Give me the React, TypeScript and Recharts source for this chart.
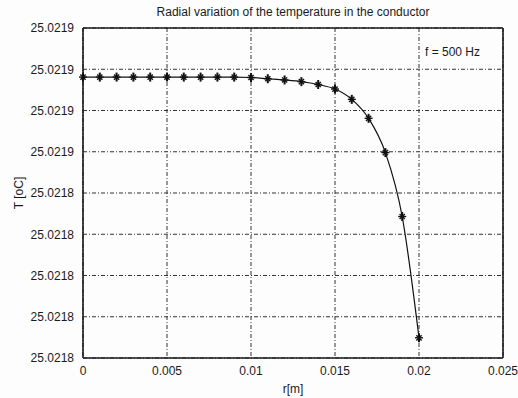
import React from 'react';
import { LineChart, Line, XAxis, YAxis, CartesianGrid, ReferenceLine } from 'recharts';

// radius [m]
const radius = [
  0, 0.001, 0.002, 0.003, 0.004, 0.005, 0.006, 0.007, 0.008, 0.009, 0.01,
  0.011, 0.012, 0.013, 0.014, 0.015, 0.016, 0.017, 0.018, 0.019, 0.02,
];

// temperature [oC]
const temperature = [
  25.0218731, 25.0218731, 25.0218731, 25.0218731, 25.0218731, 25.0218731,
  25.0218731, 25.0218731, 25.0218731, 25.0218731, 25.0218730,
  25.0218727, 25.0218724, 25.0218720, 25.0218713, 25.0218702,
  25.0218677, 25.0218631, 25.0218548, 25.0218393, 25.0218099,
];

const xTicks = [0, 0.005, 0.01, 0.015, 0.02, 0.025];
const yTicks = [
  25.021805, 25.021815, 25.021825, 25.021835, 25.021845,
  25.021855, 25.021865, 25.021875, 25.021885,
];

const chartData = radius.map((r, i) => ({ r, T: temperature[i] }));

const FONT = '"Liberation Sans", Arial, sans-serif';
const INK = '#1a1a1a';

// MATLAB style '*' marker
const StarDot = (props: any) => {
  const { cx, cy } = props;
  if (cx == null || cy == null) return null;
  const s = 4;
  const d = 2.6;
  return (
    <g stroke="#111" strokeWidth={1.4}>
      <line x1={cx - s} y1={cy} x2={cx + s} y2={cy} />
      <line x1={cx} y1={cy - s - 0.5} x2={cx} y2={cy + s + 0.5} strokeWidth={2} />
      <line x1={cx - d} y1={cy - d} x2={cx + d} y2={cy + d} />
      <line x1={cx - d} y1={cy + d} x2={cx + d} y2={cy - d} />
    </g>
  );
};

const fmtX = (v: number) => (v === 0 ? '0' : String(Number(v.toFixed(3))));

export default function App() {
  return (
    <div style={{ position: 'absolute', left: 0, top: 0, width: 518, height: 398, background: '#fdfdfd', fontFamily: FONT }}>
      <div
        style={{
          position: 'absolute', left: 83, width: 420, top: 5, textAlign: 'center',
          fontSize: 12, color: INK,
        }}
      >
        Radial variation of the temperature in the conductor
      </div>
      <div style={{ position: 'absolute', left: 425, top: 45, fontSize: 12, color: INK }}>
        f = 500 Hz
      </div>
      <LineChart
        width={518}
        height={398}
        data={chartData}
        margin={{ top: 28, right: 15, bottom: 2, left: 0 }}
      >
        <CartesianGrid stroke="#333" strokeDasharray="4 2 1 2" />
        <XAxis
          dataKey="r"
          type="number"
          domain={[0, 0.025]}
          ticks={xTicks}
          tickFormatter={fmtX}
          height={38}
          stroke={INK}
          strokeWidth={1.6}
          tickLine={false}
          tick={{ fill: INK, fontSize: 12, fontFamily: FONT }}
          tickMargin={2}
          label={{ value: 'r[m]', position: 'insideBottom', offset: 3, fill: INK, fontSize: 12, fontFamily: FONT }}
        />
        <YAxis
          type="number"
          domain={[25.021805, 25.021885]}
          ticks={yTicks}
          tickFormatter={(v: number) => v.toFixed(4)}
          width={83}
          stroke={INK}
          strokeWidth={1.6}
          tickLine={false}
          tickMargin={3}
          tick={{ fill: INK, fontSize: 12, fontFamily: FONT }}
          label={{ value: 'T [oC]', angle: -90, position: 'center', dx: -23, fill: INK, fontSize: 12, fontFamily: FONT }}
        />
        <ReferenceLine x={0.025} stroke={INK} strokeWidth={1.6} />
        <ReferenceLine y={25.021885} stroke={INK} strokeWidth={1.6} />
        <Line
          dataKey="T"
          type="monotone"
          stroke="#111"
          strokeWidth={1.2}
          dot={<StarDot />}
          isAnimationActive={false}
        />
      </LineChart>
    </div>
  );
}
